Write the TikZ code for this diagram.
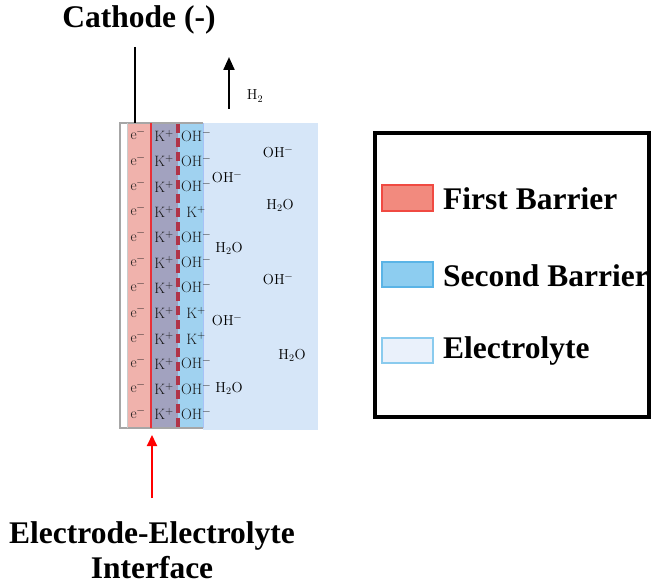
\documentclass[tikz,border=0pt]{standalone}
\usepackage{fontspec}
\newfontfamily\tnr{Liberation Serif}
\usetikzlibrary{arrows.meta}
\definecolor{ecol}{HTML}{F0B2AC}
\definecolor{kcol}{HTML}{A2A2BF}
\definecolor{ohcol}{HTML}{A0D2F0}
\definecolor{elcol}{HTML}{D6E6F8}
\definecolor{redline}{HTML}{E83038}
\definecolor{dashred}{HTML}{B03448}
\definecolor{sw1fill}{HTML}{F28A7E}
\definecolor{sw1line}{HTML}{F04A42}
\definecolor{sw2fill}{HTML}{8DCDF0}
\definecolor{sw2line}{HTML}{5AB4E6}
\definecolor{sw3fill}{HTML}{EAF1FB}
\definecolor{sw3line}{HTML}{8ACBEE}
\newcommand\ionup[1]{\textsuperscript{#1}}
\newcommand\iondn[1]{\textsubscript{#1}}
\begin{document}
\begin{tikzpicture}[x=1pt,y=-1pt,
  ion/.style={font=\fontsize{15}{15}\selectfont, text=black!90, inner sep=0pt},
  free/.style={font=\fontsize{14.5}{14.5}\selectfont, text=black, inner sep=0pt},
  big/.style={font=\tnr\bfseries\fontsize{31.5}{35}\selectfont, inner sep=0pt, anchor=base},
  legtext/.style={font=\tnr\bfseries\fontsize{31.5}{35}\selectfont, inner sep=0pt, anchor=base west},
  swatch/.style={line width=1.2pt}]
\useasboundingbox (0,0) rectangle (651,585);
% electrode layers
\fill[elcol] (203,123) rectangle (318,430);
\fill[white] (120,123) rectangle (127,428);
\fill[ecol] (127,123) rectangle (151,428);
\fill[kcol] (151,123) rectangle (178,428);
\fill[ohcol] (178,123) rectangle (203,428);
\draw[ohcol!80!blue!70, line width=0.8pt] (203,123) -- (203,428);
\draw[gray!70, line width=1.4pt] (203,428) -- (120,428) -- (120,123) -- (203,123);
\draw[gray!40, line width=0.6pt] (127,123) -- (127,428);
\draw[redline, line width=2pt] (151,123) -- (151,428);
\draw[dashred, line width=3.6pt, dash pattern=on 9pt off 5pt] (178,124) -- (178,428);
% ions in layers
\foreach \i/\c in {0/OH,1/OH,2/OH,3/K,4/OH,5/OH,6/OH,7/K,8/K,9/OH,10/OH,11/OH}{
  \pgfmathsetmacro{\yy}{136+25.3*\i}
  \node[ion] (e\i) at (138,\yy) {e\ionup{−}};
  \node[ion] (k\i) at (164,\yy) {K\ionup{+}};
  \ifnum\pdfstrcmp{\c}{OH}=0
    \node[ion] (c\i) at (196,\yy) {OH\ionup{−}};
  \else
    \node[ion] (c\i) at (196,\yy) {K\ionup{+}};
  \fi
}
% free species in electrolyte
\node[free] (f1) at (278,153) {OH\ionup{−}};
\node[free] (f2) at (227,178) {OH\ionup{−}};
\node[free] (f3) at (280,205) {H\iondn{2}O};
\node[free] (f4) at (229,248) {H\iondn{2}O};
\node[free] (f5) at (278,280) {OH\ionup{−}};
\node[free] (f6) at (227,321) {OH\ionup{−}};
\node[free] (f7) at (292,355) {H\iondn{2}O};
\node[free] (f8) at (229,388) {H\iondn{2}O};
% H2 arrow
\coordinate (h2b) at (229,109);
\coordinate (h2t) at (229,57);
\draw[line width=2.2pt, -{Triangle[length=13pt,width=11pt]}] (h2b) -- (h2t);
\node[free] (h2) at (255,96) {H\iondn{2}};
% cathode
\node[big] (cath) at (139,28) {Cathode (-)};
\coordinate (wtop) at (135,47);
\coordinate (wbot) at (135,123);
\draw[line width=2.8pt] (wtop) -- (wbot);
% interface
\node[big] (int1) at (152,543) {Electrode-Electrolyte};
\node[big] (int2) at (152,578) {Interface};
\coordinate (rb) at (152,498);
\coordinate (rt) at (152,435);
\draw[red, line width=1.8pt, -{Triangle[length=11pt,width=10pt]}] (rb) -- (rt);
% legend
\draw[line width=3.5pt] (375,133) rectangle (649,417);
\draw[swatch, draw=sw1line, fill=sw1fill] (382,185) rectangle (433,211);
\node[legtext] (l1) at (443,210) {First Barrier};
\draw[swatch, draw=sw2line, fill=sw2fill] (382,262) rectangle (433,287);
\node[legtext] (l2) at (443,287) {Second Barrier};
\draw[swatch, draw=sw3line, fill=sw3fill] (382,338) rectangle (433,363);
\node[legtext] (l3) at (443,359) {Electrolyte};
\end{tikzpicture}
\end{document}
